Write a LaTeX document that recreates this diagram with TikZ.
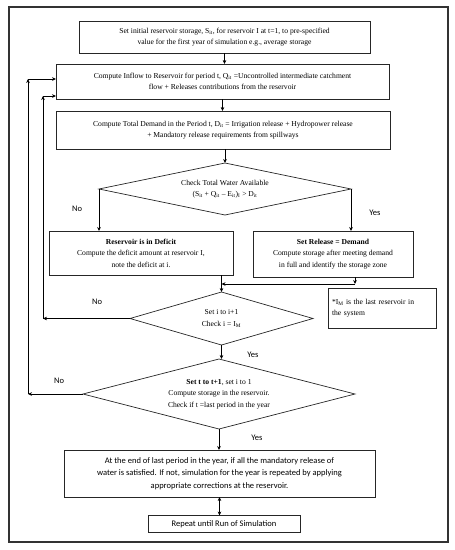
\documentclass[tikz,border=0pt]{standalone}
\usepackage{fontspec}
\setmainfont{Liberation Serif}
\newfontfamily\carlito{Carlito}
\usetikzlibrary{shapes.geometric,arrows.meta}
\begin{document}
\begin{tikzpicture}[x=1pt,y=-1pt,
  serif/.style={font=\fontsize{7.6}{11.5}\selectfont},
  box/.style={draw=black!85,line width=0.8pt,inner sep=0pt,outer sep=0pt,align=center,serif},
  sbox/.style={draw=black!85,line width=0.8pt,inner sep=0pt,outer sep=0pt,align=center,font=\carlito\fontsize{8.5}{12.5}\selectfont},
  dia/.style={draw=black!85,line width=0.7pt,shape=diamond,inner sep=0pt,outer sep=0pt,align=center,serif},
  arr/.style={-{Stealth[length=4pt,width=3.6pt]},line width=0.7pt},
  darr/.style={{Stealth[length=4pt,width=3.6pt]}-{Stealth[length=4pt,width=3.6pt]},line width=0.7pt},
  lab/.style={font=\carlito\fontsize{8.5}{10}\selectfont,inner sep=0pt}]
\useasboundingbox (0,0) rectangle (455,550);
\draw[black!80,line width=1.1pt] (9,7) rectangle (448,542);

\node[box,minimum width=291,minimum height=32] (b1) at (224.5,37)
  {Set initial reservoir storage, S\textsubscript{it}, for reservoir I at t=1, to pre-specified\\value for the first year of simulation e.g., average storage};
\node[box,minimum width=333,minimum height=35] (b2) at (222.5,81.5)
  {Compute Inflow to Reservoir for period t, Q\textsubscript{it} =Uncontrolled intermediate catchment\\flow + Releases contributions from the reservoir};
\node[box,minimum width=334,minimum height=38] (b3) at (223,130)
  {Compute Total Demand in the Period t, D\textsubscript{it} = Irrigation release + Hydropower release\\+ Mandatory release requirements from spillways};
\node[dia,minimum width=252,minimum height=52,aspect=4.85] (d1) at (225,189)
  {Check Total Water Available\\(S\textsubscript{it} + Q\textsubscript{it} {\textendash} E\textsubscript{it})\textsubscript{I} > D\textsubscript{it}};
\node[box,minimum width=184,minimum height=44] (b4) at (141,253)
  {\textbf{Reservoir is in Deficit}\\Compute the deficit amount at reservoir I,\\note the deficit at i.};
\node[box,minimum width=160,minimum height=46] (b5) at (333,254)
  {\textbf{Set Release = Demand}\\Compute storage after meeting demand\\in full and identify the storage zone};
\node[dia,minimum width=183,minimum height=53,aspect=3.45] (d2) at (221.5,318.5)
  {Set i to i+1\\Check i = I\textsubscript{M}};
\node[box,minimum width=108,minimum height=40,align=left,text width=100] (nt) at (382,308)
  {*I\textsubscript{M} is the last reservoir in\\the system};
\node[dia,minimum width=272,minimum height=70,aspect=3.9] (d3) at (219,394)
  {\textbf{Set t to t+1}, set i to 1\\Compute storage in the reservoir.\\Check if t =last period in the year};
\node[sbox,minimum width=311,minimum height=47] (b6) at (219.5,473.5)
  {At the end of last period in the year, if all the mandatory release of\\water is satisfied. If not, simulation for the year is repeated by applying\\appropriate corrections at the reservoir.};
\node[sbox,minimum width=152,minimum height=17] (b7) at (224,524)
  {Repeat until Run of Simulation};

\node[lab] (n1) at (77,209) {No};
\node[lab] (y1) at (375,213) {Yes};
\node[lab] (n2) at (97,302) {No};
\node[lab] (y2) at (253,355) {Yes};
\node[lab] (n3) at (59,381) {No};
\node[lab] (y3) at (257,438) {Yes};

\draw[arr] (b1.south) -- (b1.south |- b2.north);
\draw[arr] (b2.south) -- (b2.south |- b3.north);
\draw[arr] (d1.north |- b3.south) -- (d1.north);
\draw[arr] (d1.west) -- (d1.west |- b4.north);
\draw[arr] (d1.east) -- (d1.east |- b5.north);
\draw[arr] (d2.north |- b4.south) -- (d2.north);
\coordinate (m) at (355,284);
\draw[arr] (m |- b5.south) -- (m);
\draw[arr] (m) -- (d2.north |- m);
\draw[arr] (d2.south) -- (d2.south |- d3.north);
\coordinate (ia) at (43,318.5);
\coordinate (ib) at (43,96);
\draw[arr] (d2.west) -- (ia);
\draw[arr] (ia) -- (ib);
\draw[arr] (ib) -- (ib -| b2.west);
\coordinate (oa) at (28,394);
\coordinate (ob) at (28,79);
\draw[arr] (d3.west) -- (oa);
\draw[arr] (oa) -- (ob);
\draw[arr] (ob) -- (ob -| b2.west);
\draw[arr] (d3.south) -- (d3.south |- b6.north);
\draw[darr] (b6.south) -- (b6.south |- b7.north);
\end{tikzpicture}
\end{document}
